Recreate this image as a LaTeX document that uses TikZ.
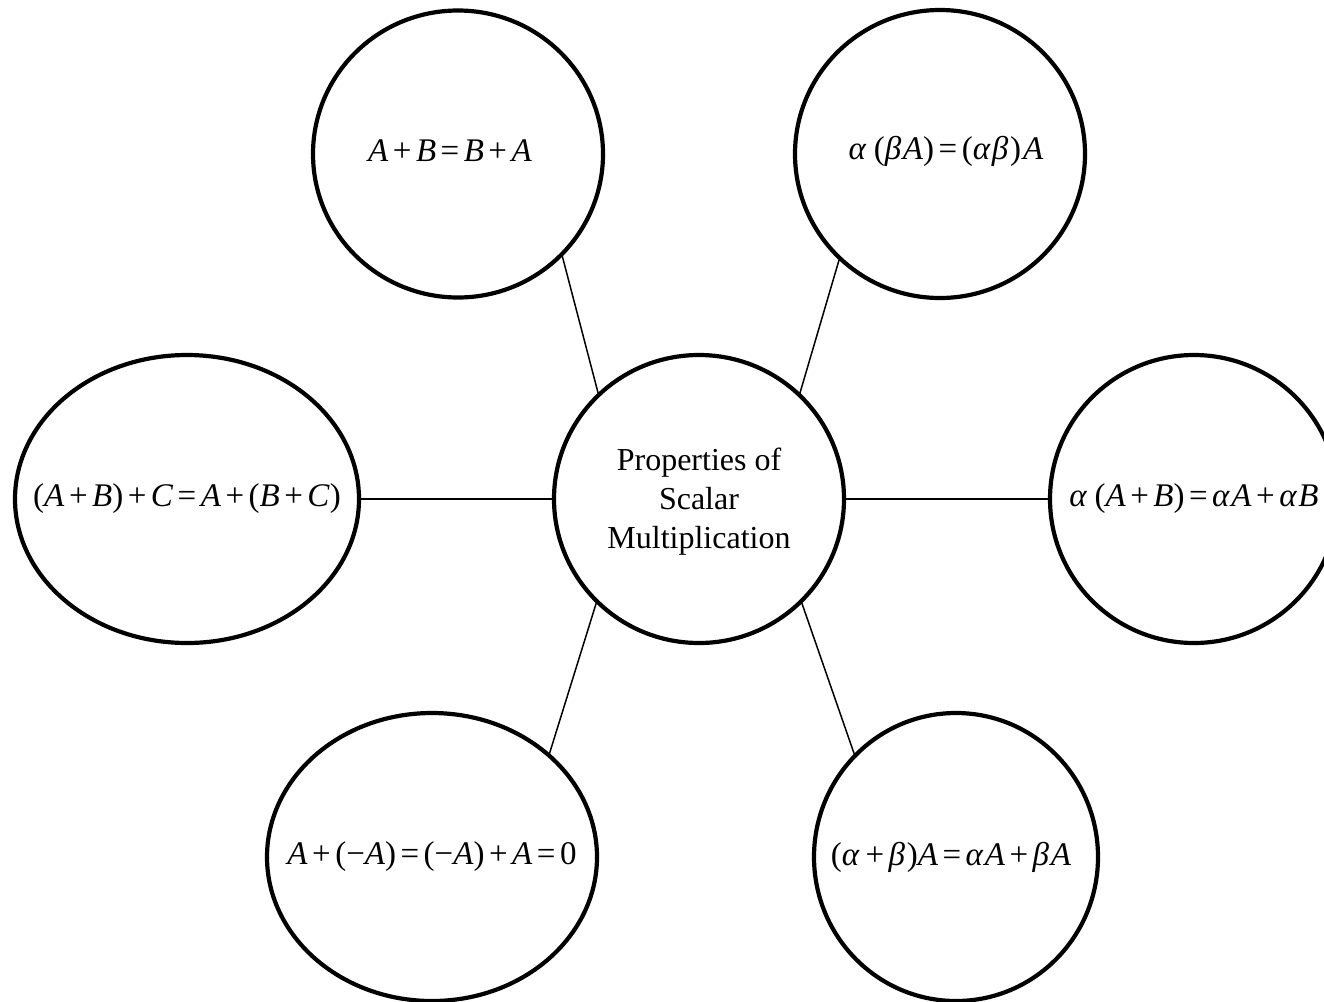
\documentclass[tikz,border=0pt]{standalone}
\usepackage{fontspec}
\setmainfont{Liberation Serif}
\usetikzlibrary{shapes.geometric}
\newcommand\iA{\textit{A}}
\newcommand\iB{\textit{B}}
\newcommand\iC{\textit{C}}
\newcommand\ial{\makebox[0.58em][l]{\textit{α}}}
\newcommand\ibe{\makebox[0.55em][l]{\textit{β}}}
\newcommand\oppl{\kern4.5pt+\kern4.5pt}
\newcommand\opeq{\kern4.5pt=\kern4.5pt}
\tikzset{
  bub/.style 2 args={draw, shape=ellipse, line width=4.2pt, inner sep=0pt, outer sep=0pt,
    minimum width=#1, minimum height=#2},
  lab/.style={font=\fontsize{33}{39}\selectfont, inner sep=0pt},
  conn/.style={line width=1.5pt},
}
\begin{document}
\begin{tikzpicture}[x=1pt, y=-1pt]
\path[fill=white] (0,0) rectangle (1324,1001);
\useasboundingbox (0,0) rectangle (1324,1001);
\node[bub={290pt}{288pt}, label={[lab, align=center, yshift=-3pt, font=\fontsize{32}{39}\selectfont]center:{Properties of\\Scalar\\Multiplication}}] (c) at (699,499) {};
\node[bub={290pt}{287pt}, label={[lab, xshift=-8pt, yshift=3pt]center:{\iA\oppl\iB\opeq\iB\oppl\iA}}] (tl) at (458,154) {};
\node[bub={290pt}{288pt}, label={[lab, xshift=6pt, yshift=3pt]center:{\ial\kern6pt(\ibe\iA)\opeq(\ial\ibe)\kern2pt\iA}}] (tr) at (940,154) {};
\node[bub={344pt}{288pt}, label={[lab]center:{(\iA\oppl\iB)\oppl\iC\opeq\iA\oppl(\iB\oppl\iC)}}] (l) at (187,499) {};
\node[bub={288pt}{288pt}, label={[lab]center:{\ial\kern6pt(\iA\oppl\iB)\opeq\ial\iA\oppl\ial\iB}}] (r) at (1194,499) {};
\node[bub={330pt}{288pt}, label={[lab]center:{\iA\oppl(−\iA)\opeq(−\iA)\oppl\iA\opeq0}}] (bl) at (432,857) {};
\node[bub={284pt}{288pt}, label={[lab, xshift=-5pt]center:{(\ial\oppl\ibe)\iA\opeq\ial\iA\oppl\ibe\iA}}] (br) at (956,857) {};
\draw[conn] (c.134) -- (tl.-44);
\draw[conn] (c.46) -- (tr.-134);
\draw[conn] (c.180) -- (l.0);
\draw[conn] (c.0) -- (r.180);
\draw[conn] (c.225) -- (bl.41);
\draw[conn] (c.-45) -- (br.135);
\end{tikzpicture}
\end{document}
